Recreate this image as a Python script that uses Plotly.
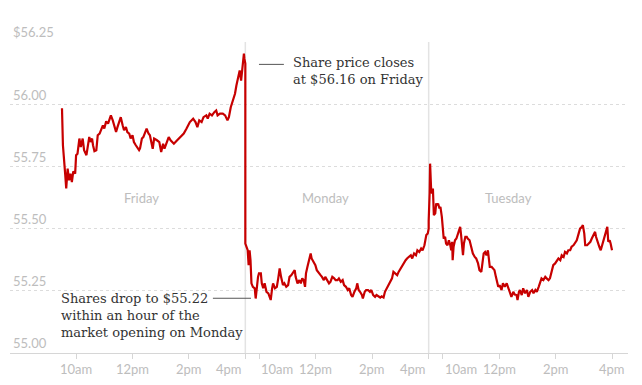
import plotly.graph_objects as go

# ---- data (minutes after 9:30am open, share price in $) ----
day_names = ["Friday", "Monday", "Tuesday"]
day_len = 390  # trading minutes per day

fri_min = [0, 2, 7, 9, 12, 15, 18, 21, 24, 28, 30, 33, 37, 40, 44, 47, 52, 54, 58, 61, 64, 66, 69, 73,
           76, 80, 83, 87, 90, 94, 98, 101, 104, 108, 112, 115, 118, 122, 125, 129, 132, 136, 139, 143,
           146, 150, 153, 157, 160, 164, 166, 170, 173, 177, 180, 184, 187, 193, 196, 202, 207, 211, 215,
           218, 224, 227, 231, 238, 245, 251, 259, 265, 272, 279, 284, 288, 292, 297, 301, 307, 310, 314,
           319, 324, 328, 331, 336, 342, 347, 352, 355, 359, 364, 368, 371, 375, 378, 381, 383, 385, 387,
           388, 390]
fri_price = [55.984, 55.835, 55.714, 55.661, 55.741, 55.694, 55.721, 55.687, 55.730, 55.721, 55.795,
             55.801, 55.862, 55.828, 55.862, 55.815, 55.795, 55.821, 55.868, 55.848, 55.862, 55.835,
             55.811, 55.815, 55.875, 55.882, 55.895, 55.915, 55.902, 55.931, 55.922, 55.942, 55.955,
             55.935, 55.908, 55.888, 55.908, 55.935, 55.948, 55.915, 55.895, 55.908, 55.888, 55.882,
             55.862, 55.875, 55.848, 55.835, 55.828, 55.815, 55.822, 55.862, 55.868, 55.888, 55.902,
             55.882, 55.875, 55.821, 55.862, 55.855, 55.848, 55.808, 55.841, 55.821, 55.848, 55.868,
             55.855, 55.841, 55.855, 55.868, 55.882, 55.902, 55.928, 55.942, 55.928, 55.908, 55.935,
             55.928, 55.948, 55.955, 55.942, 55.962, 55.955, 55.968, 55.975, 55.955, 55.962, 55.962,
             55.955, 55.935, 55.948, 55.988, 56.015, 56.042, 56.075, 56.109, 56.136, 56.095, 56.129,
             56.176, 56.203, 56.183, 56.163]

mon_min = [0, 2, 5, 7, 9, 11, 13, 16, 20, 22, 24, 27, 29, 33, 35, 38, 41, 45, 49, 52, 54, 57, 59, 63,
           67, 70, 73, 76, 80, 83, 87, 91, 94, 98, 102, 105, 107, 111, 115, 118, 121, 124, 127, 129, 132,
           136, 139, 141, 145, 149, 152, 156, 160, 163, 167, 170, 174, 178, 181, 185, 189, 192, 196, 199,
           203, 207, 210, 214, 218, 221, 225, 228, 232, 236, 238, 241, 244, 248, 250, 254, 257, 261, 265,
           268, 272, 276, 279, 283, 287, 290, 294, 297, 301, 305, 308, 312, 315, 319, 323, 326, 330, 334,
           337, 341, 344, 348, 352, 355, 359, 363, 366, 370, 374, 377, 381, 385, 388, 390]
mon_price = [55.440, 55.427, 55.413, 55.353, 55.413, 55.373, 55.280, 55.266, 55.260, 55.219, 55.260,
             55.306, 55.320, 55.320, 55.280, 55.260, 55.280, 55.246, 55.240, 55.226, 55.213, 55.260,
             55.280, 55.260, 55.266, 55.300, 55.340, 55.306, 55.273, 55.280, 55.266, 55.273, 55.306,
             55.313, 55.326, 55.333, 55.306, 55.280, 55.293, 55.280, 55.300, 55.293, 55.266, 55.320,
             55.346, 55.386, 55.400, 55.380, 55.366, 55.353, 55.333, 55.320, 55.313, 55.306, 55.293,
             55.306, 55.293, 55.280, 55.286, 55.306, 55.300, 55.293, 55.293, 55.300, 55.286, 55.293,
             55.273, 55.266, 55.253, 55.260, 55.233, 55.226, 55.246, 55.260, 55.280, 55.253, 55.246,
             55.233, 55.219, 55.246, 55.253, 55.253, 55.246, 55.253, 55.233, 55.226, 55.233, 55.226,
             55.223, 55.228, 55.223, 55.246, 55.260, 55.273, 55.286, 55.300, 55.326, 55.320, 55.313,
             55.326, 55.340, 55.353, 55.360, 55.373, 55.380, 55.386, 55.393, 55.380, 55.400, 55.393,
             55.413, 55.406, 55.420, 55.413, 55.433, 55.474, 55.480, 55.500]

tue_min = [0, 2, 3, 5, 7, 9, 11, 14, 16, 18, 20, 23, 25, 28, 30, 32, 35, 37, 40, 43, 46, 48, 50, 51,
           53, 56, 59, 62, 64, 67, 69, 71, 73, 75, 78, 81, 83, 87, 91, 94, 98, 101, 105, 108, 112, 114,
           117, 120, 123, 126, 128, 130, 134, 137, 140, 143, 145, 148, 151, 155, 158, 162, 166, 169, 173,
           176, 180, 183, 187, 189, 192, 194, 198, 201, 205, 209, 212, 216, 220, 223, 227, 230, 234, 237,
           240, 244, 248, 251, 255, 258, 262, 265, 269, 273, 276, 280, 283, 287, 290, 294, 297, 301, 304,
           308, 312, 315, 319, 322, 326, 328, 331, 333, 337, 340, 344, 347, 351, 354, 356, 359, 363, 366,
           370, 373, 377, 380, 382, 385, 387, 390]
tue_price = [55.530, 55.641, 55.761, 55.667, 55.641, 55.661, 55.554, 55.561, 55.601, 55.594, 55.601,
             55.581, 55.587, 55.547, 55.487, 55.460, 55.467, 55.440, 55.433, 55.453, 55.433, 55.413,
             55.447, 55.373, 55.427, 55.453, 55.460, 55.480, 55.494, 55.507, 55.474, 55.440, 55.393,
             55.440, 55.467, 55.467, 55.460, 55.453, 55.427, 55.400, 55.386, 55.380, 55.360, 55.333,
             55.326, 55.366, 55.400, 55.406, 55.393, 55.413, 55.360, 55.346, 55.346, 55.340, 55.333,
             55.306, 55.286, 55.266, 55.273, 55.253, 55.280, 55.266, 55.280, 55.266, 55.246, 55.226,
             55.246, 55.235, 55.233, 55.213, 55.246, 55.253, 55.233, 55.260, 55.240, 55.253, 55.226,
             55.246, 55.253, 55.240, 55.253, 55.246, 55.266, 55.286, 55.300, 55.293, 55.306, 55.300,
             55.293, 55.300, 55.326, 55.353, 55.360, 55.373, 55.380, 55.373, 55.393, 55.386, 55.406,
             55.400, 55.413, 55.413, 55.427, 55.433, 55.447, 55.453, 55.480, 55.500, 55.507, 55.514,
             55.480, 55.433, 55.433, 55.440, 55.447, 55.460, 55.474, 55.487, 55.467, 55.447, 55.427,
             55.413, 55.440, 55.460, 55.487, 55.507, 55.447, 55.453, 55.440, 55.413]

x_tick_min = [30, 150, 270, 390]          # 10am, 12pm, 2pm, 4pm (minutes after open)
x_tick_text = ["10am", "12pm", "2pm", "4pm"]
y_tick_vals = [55.00, 55.25, 55.50, 55.75, 56.00, 56.25]
y_tick_text = ["55.00", "55.25", "55.50", "55.75", "56.00", "$56.25"]

friday_close = 56.16
monday_low = 55.22

# ---- build ----
xs, ys = [], []
for d, (mins, prices) in enumerate([(fri_min, fri_price), (mon_min, mon_price), (tue_min, tue_price)]):
    xs += [d * day_len + m for m in mins]
    ys += prices

tickvals = []
for d in range(3):
    tickvals += [d * day_len + t for t in x_tick_min]

RED = "#c70000"
GREY_TXT = "#bdbdbd"
SANS = "Lato"
SERIF = "DejaVu Serif"

fig = go.Figure()
fig.add_trace(go.Scatter(x=xs, y=ys, mode="lines",
                         line=dict(color=RED, width=2.2), hoverinfo="skip", showlegend=False))

# day dividers
for d in (1, 2):
    fig.add_shape(type="line", xref="x", yref="y", x0=d * day_len, x1=d * day_len,
                  y0=55.0, y1=56.25, line=dict(color="#e3e3e3", width=1.5), layer="below")

# x tick labels (4pm at day ends right-aligned, following 10am left-aligned to avoid overlap)
for d in range(3):
    for t, lab in zip(x_tick_min, x_tick_text):
        if t == 390 and d < 2:
            anchor = "right"
        elif t == 30 and d > 0:
            anchor = "left"
        else:
            anchor = "center"
        fig.add_annotation(x=d * day_len + t, y=55.0, xref="x", yref="y", text=lab, showarrow=False,
                           xanchor=anchor, yanchor="top", yshift=-6, xshift=(-1 if anchor == "right" else 0),
                           font=dict(family=SANS, size=13, color=GREY_TXT))

# day labels
for d, name in enumerate(day_names):
    fig.add_annotation(x=d * day_len + 170, y=55.622, text=name, showarrow=False,
                       font=dict(family=SANS, size=13, color=GREY_TXT), xanchor="center", yanchor="middle")

# annotation 1: Friday close
fig.add_shape(type="line", xref="x", yref="y", x0=419, x1=472, y0=friday_close, y1=friday_close,
              line=dict(color="#555555", width=1))
fig.add_annotation(x=491, y=56.204, xref="x", yref="y", xshift=-2,
                   text="Share price closes<br>at $56.16 on Friday",
                   showarrow=False, xanchor="left", yanchor="top", align="left",
                   font=dict(family=SERIF, size=13, color="#333333"))

# annotation 2: Monday drop
fig.add_shape(type="line", xref="x", yref="y", x0=321, x1=402, y0=monday_low, y1=monday_low,
              line=dict(color="#555555", width=1))
fig.add_annotation(x=1.5, y=55.258, xref="x", yref="y", xshift=-4,
                   text="Shares drop to $55.22<br>within an hour of the<br>market opening on Monday",
                   showarrow=False, xanchor="left", yanchor="top", align="left",
                   font=dict(family=SERIF, size=13, color="#333333"))

fig.update_layout(
    width=634, height=377,
    margin=dict(l=2, r=14, t=33.5, b=32, autoexpand=False),
    paper_bgcolor="white", plot_bgcolor="white",
    xaxis=dict(range=[-110.6, 1204], tickmode="array", tickvals=tickvals, showticklabels=False,
               showgrid=False, zeroline=False, showline=True, linecolor="#d6d6d6", linewidth=1,
               ticks="outside", ticklen=5, tickcolor="#d6d6d6", automargin=False),
    yaxis=dict(range=[55.0, 56.25], tickmode="array", tickvals=y_tick_vals, ticktext=y_tick_text,
               showgrid=True, gridcolor="#dcdcdc", griddash="dot", gridwidth=1, zeroline=False,
               ticks="", ticklabelposition="inside top", ticklabeloverflow="allow", automargin=False,
               tickfont=dict(family=SANS, size=13, color=GREY_TXT)),
)

fig.write_html("out.html")
